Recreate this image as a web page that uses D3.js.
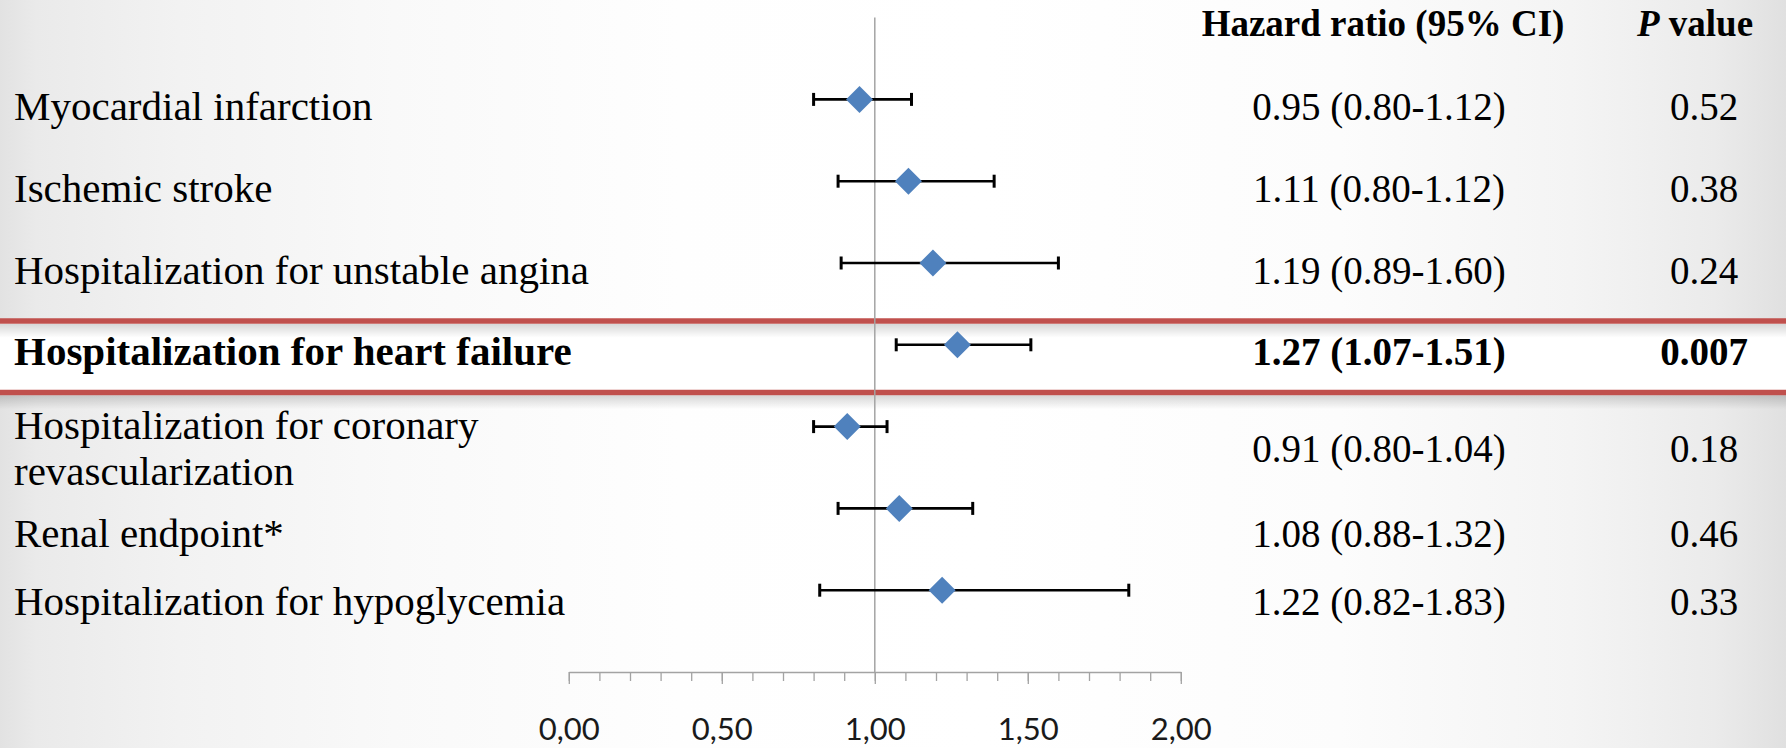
<!DOCTYPE html>
<html>
<head>
<meta charset="utf-8">
<script src="https://cdn.jsdelivr.net/npm/d3@7"></script>
<style>
  html, body { margin: 0; padding: 0; background: #fff; }
  svg { display: block; }
</style>
</head>
<body>
<svg id="chart" width="1786" height="748"></svg>
<script>
// Outcomes, top to bottom
const outcomes = [
  "Myocardial infarction",
  "Ischemic stroke",
  "Hospitalization for unstable angina",
  "Hospitalization for heart failure",
  "Hospitalization for coronary\nrevascularization",
  "Renal endpoint*",
  "Hospitalization for hypoglycemia"
];

// Point estimates and 95% confidence bounds
const hazardRatio = [0.95, 1.11, 1.19, 1.27, 0.91, 1.08, 1.22];
const ciLower     = [0.80, 0.88, 0.89, 1.07, 0.80, 0.88, 0.82];
const ciUpper     = [1.12, 1.39, 1.60, 1.51, 1.04, 1.32, 1.83];

// Table columns as printed
const hrLabels = [
  "0.95 (0.80-1.12)",
  "1.11 (0.80-1.12)",
  "1.19 (0.89-1.60)",
  "1.27 (1.07-1.51)",
  "0.91 (0.80-1.04)",
  "1.08 (0.88-1.32)",
  "1.22 (0.82-1.83)"
];
const pLabels = ["0.52", "0.38", "0.24", "0.007", "0.18", "0.46", "0.33"];

// Emphasised outcome
const highlightRow = 3;

// Axis ticks
const majorTicks = [0, 0.5, 1, 1.5, 2];
const minorTicks = d3.range(0, 21).map(i => i / 10);

// ---------------------------------------------------------------
const W = 1786, H = 748;
const svg = d3.select("#chart");
const defs = svg.append("defs");

const x = d3.scaleLinear().domain([0, 2]).range([568.8, 1180.8]);
const y = d3.scaleLinear().domain([0, 8]).range([672, 17.6]);
const rowValue = i => outcomes.length - i;   // top row sits at 7

// slide background: pale grey towards both side edges
const bg = defs.append("linearGradient").attr("id", "bg")
  .attr("x1", "0").attr("x2", "1").attr("y1", "0").attr("y2", "0");
[["0%", "#e2e2e2"], ["2%", "#eaeaea"], ["10%", "#f2f2f2"], ["22%", "#f9f9f9"],
 ["38%", "#fefefe"], ["55%", "#ffffff"], ["75%", "#fcfcfc"], ["88%", "#f4f4f4"],
 ["96%", "#ebebeb"], ["100%", "#e0e0e0"]]
  .forEach(([o, c]) => bg.append("stop").attr("offset", o).attr("stop-color", c));

const shadow = defs.append("linearGradient").attr("id", "shadow")
  .attr("x1", "0").attr("x2", "0").attr("y1", "0").attr("y2", "1");
shadow.append("stop").attr("offset", "0%").attr("stop-color", "#000").attr("stop-opacity", 0.16);
shadow.append("stop").attr("offset", "100%").attr("stop-color", "#000").attr("stop-opacity", 0);

svg.append("rect").attr("width", W).attr("height", H).attr("fill", "url(#bg)");

// highlight band around the emphasised outcome
const band = { top: 321, bottom: 392.5, rule: 5.5 };
svg.append("rect").attr("x", 0).attr("y", band.top).attr("width", W)
  .attr("height", band.bottom - band.top).attr("fill", "#ffffff");
[band.top, band.bottom].forEach(yy => {
  svg.append("rect").attr("x", 0).attr("y", yy + band.rule / 2).attr("width", W)
    .attr("height", 14).attr("fill", "url(#shadow)");
});
[band.top, band.bottom].forEach(yy => {
  svg.append("line").attr("x1", 0).attr("x2", W).attr("y1", yy).attr("y2", yy)
    .attr("stroke", "#c0504d").attr("stroke-width", band.rule);
});

// ---- axis ----
const axisColor = "#a3a3a3";
const minorAxis = svg.append("g").attr("transform", `translate(0,${y(0)})`)
  .call(d3.axisBottom(x).tickValues(minorTicks).tickSize(9).tickSizeOuter(0).tickFormat(""));
const majorAxis = svg.append("g").attr("transform", `translate(0,${y(0)})`)
  .call(d3.axisBottom(x).tickValues(majorTicks).tickSize(12).tickSizeOuter(0)
    .tickFormat(d => d3.format(".2f")(d).replace(".", ",")));
majorAxis.select(".domain").remove();
[minorAxis, majorAxis].forEach(g => {
  g.selectAll("path, line").attr("stroke", axisColor).attr("stroke-width", 1.3);
});
majorAxis.selectAll("text")
  .attr("y", 68).attr("dy", null)
  .attr("fill", "#1a1a1a")
  .style("font-family", "Lato, 'Open Sans', sans-serif")
  .style("font-size", "31px");

// reference line at HR = 1
svg.append("line")
  .attr("x1", x(1)).attr("x2", x(1)).attr("y1", y(8)).attr("y2", y(0))
  .attr("stroke", axisColor).attr("stroke-width", 1.5);

// ---- confidence intervals and point estimates ----
const rows = outcomes.map((name, i) => ({
  name, i, hr: hazardRatio[i], lo: ciLower[i], hi: ciUpper[i]
}));

const marks = svg.append("g").selectAll("g").data(rows).join("g")
  .attr("transform", d => `translate(0,${y(rowValue(d.i))})`);

marks.append("line")
  .attr("x1", d => x(d.lo)).attr("x2", d => x(d.hi))
  .attr("stroke", "#000").attr("stroke-width", 2.6);
marks.selectAll("line.cap").data(d => [d.lo, d.hi]).join("line")
  .attr("class", "cap")
  .attr("x1", v => x(v)).attr("x2", v => x(v))
  .attr("y1", -6.5).attr("y2", 6.5)
  .attr("stroke", "#000").attr("stroke-width", 3);
marks.append("path")
  .attr("d", d3.symbol(d3.symbolSquare, 364)())
  .attr("transform", d => `translate(${x(d.hr)},0) rotate(45)`)
  .attr("fill", "#4f81bd");

// ---- table text ----
const serif = "'Liberation Serif', 'Times New Roman', serif";
const textShift = [20.5, 20.5, 20.5, 20.5, 35, 39, 25];
const lineGap = 46;
const col = { label: 14, hr: 1379, p: 1704 };

// header
const header = svg.append("g")
  .style("font-family", serif).style("font-weight", "bold").style("font-size", "37px")
  .attr("fill", "#000");
header.append("text").attr("x", 1383).attr("y", 36).attr("text-anchor", "middle")
  .text("Hazard ratio (95% CI)");
const pHead = header.append("text").attr("x", 1695).attr("y", 36).attr("text-anchor", "middle");
pHead.append("tspan").style("font-style", "italic").text("P");
pHead.append("tspan").text(" value");

const table = svg.append("g").style("font-family", serif).attr("fill", "#000");

// outcome names (wrapped where the name holds a line break)
table.selectAll("text.label").data(rows).join("text")
  .attr("class", "label")
  .attr("x", col.label)
  .style("font-size", "41px")
  .style("font-weight", d => d.i === highlightRow ? "bold" : "normal")
  .each(function (d) {
    const lines = d.name.split("\n");
    const base = y(rowValue(d.i)) + textShift[d.i] - (lines.length - 1) * lineGap / 2;
    d3.select(this).selectAll("tspan").data(lines).join("tspan")
      .attr("x", col.label)
      .attr("y", (l, k) => base + k * lineGap)
      .text(l => l);
  });

table.selectAll("text.hr").data(rows).join("text")
  .attr("class", "hr")
  .attr("x", col.hr).attr("text-anchor", "middle")
  .attr("y", d => y(rowValue(d.i)) + textShift[d.i])
  .style("font-size", "39px")
  .style("font-weight", d => d.i === highlightRow ? "bold" : "normal")
  .text(d => hrLabels[d.i]);

table.selectAll("text.p").data(rows).join("text")
  .attr("class", "p")
  .attr("x", col.p).attr("text-anchor", "middle")
  .attr("y", d => y(rowValue(d.i)) + textShift[d.i])
  .style("font-size", "39px")
  .style("font-weight", d => d.i === highlightRow ? "bold" : "normal")
  .text(d => pLabels[d.i]);
</script>
</body>
</html>
